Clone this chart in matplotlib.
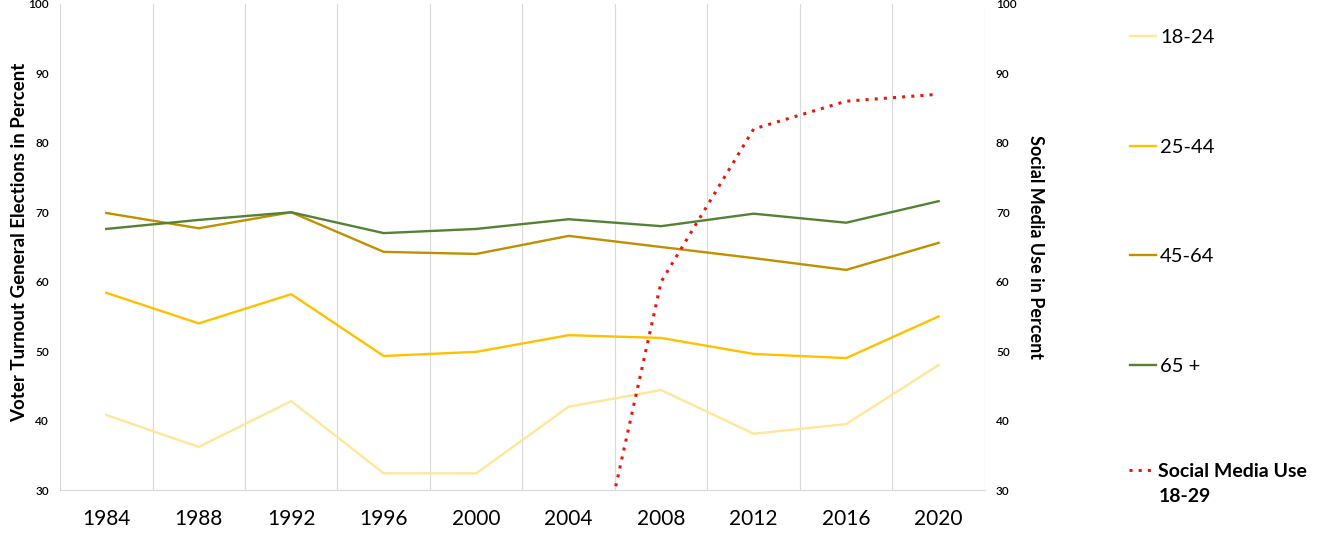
import numpy as np
import matplotlib
matplotlib.use('Agg')
import matplotlib.pyplot as plt

plt.rcParams['font.family'] = ['Lato', 'DejaVu Sans']

years = ['1984', '1988', '1992', '1996', '2000', '2004', '2008', '2012', '2016', '2020']
t_18_24 = [40.8, 36.2, 42.8, 32.4, 32.4, 42.0, 44.4, 38.1, 39.5, 48.0]
t_25_44 = [58.4, 54.0, 58.2, 49.3, 49.9, 52.3, 51.9, 49.6, 49.0, 55.0]
t_45_64 = [69.9, 67.7, 70.0, 64.3, 64.0, 66.6, 65.0, 63.4, 61.7, 65.6]
t_65 = [67.6, 68.9, 70.0, 67.0, 67.6, 69.0, 68.0, 69.8, 68.5, 71.6]
social = [np.nan, np.nan, np.nan, np.nan, np.nan, 0, 60, 82, 86, 87]

x = np.arange(len(years))

fig = plt.figure(figsize=(13.25, 5.39), dpi=100)
ax = fig.add_axes([0.0453, 0.0909, 0.698, 0.9017])
ax2 = ax.twinx()

l1, = ax.plot(x, t_18_24, color='#FFE699', lw=1.7, label='18-24')
l2, = ax.plot(x, t_25_44, color='#FFC000', lw=1.7, label='25-44')
l3, = ax.plot(x, t_45_64, color='#BF9000', lw=1.7, label='45-64')
l4, = ax.plot(x, t_65, color='#548235', lw=1.7, label='65 +')
l5, = ax2.plot(x, social, color='#E8170A', lw=2.2, ls=(0, (1, 2)), label='Social Media Use')

for a in (ax, ax2):
    a.set_xlim(-0.5, 9.5)
    a.set_ylim(30, 100)
    a.set_yticks(range(30, 101, 10))
    for s in a.spines.values():
        s.set_visible(False)
    a.tick_params(axis='y', length=0, labelsize=8.5, pad=8)

ax.spines['bottom'].set_visible(True)
ax.spines['bottom'].set_color('#D9D9D9')
ax.set_xticks(x)
ax.set_xticklabels(years)
ax.set_xticks(np.arange(-0.5, 10, 1), minor=True)
ax.tick_params(axis='x', which='both', length=0, labelsize=15, pad=14)
ax.grid(axis='x', which='minor', color='#D9D9D9', lw=0.8)
ax.set_axisbelow(True)
for lab in ax.get_yticklabels() + ax2.get_yticklabels():
    lab.set_fontweight('semibold')

ax.set_ylabel('Voter Turnout General Elections in Percent', fontsize=13.5, fontweight='bold')
ax.yaxis.set_label_coords(-0.034, 0.51)
ax2.set_ylabel('Social Media Use in Percent', fontsize=13, fontweight='bold', rotation=270, labelpad=20)

fig.legend(handles=[l1, l2, l3, l4], loc='upper left', bbox_to_anchor=(0.839, 0.98),
           frameon=False, fontsize=14.5, handlelength=1.3, handletextpad=0.2, labelspacing=4.6)
fig.legend(handles=[l5], loc='upper left', bbox_to_anchor=(0.839, 0.174),
           frameon=False, prop={'size': 14, 'weight': 'bold'}, handlelength=1.3, handletextpad=0.2)
fig.text(0.8745, 0.078, '18-29', fontsize=14, fontweight='bold', va='center')

fig.savefig('out.png', dpi=100)
